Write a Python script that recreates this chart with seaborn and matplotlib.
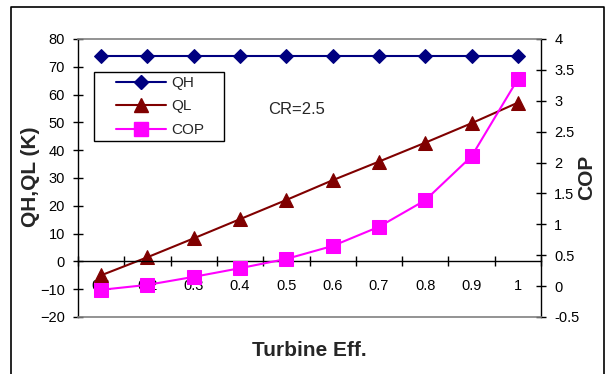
import matplotlib
matplotlib.use("Agg")
import matplotlib.pyplot as plt
import seaborn as sns
import pandas as pd
from matplotlib.lines import Line2D
from matplotlib.patches import Rectangle

# ---- data ----
turbine_eff = [0.1, 0.2, 0.3, 0.4, 0.5, 0.6, 0.7, 0.8, 0.9, 1.0]
x_tick_labels = ["0.1", "0.2", "0.3", "0.4", "0.5", "0.6", "0.7", "0.8", "0.9", "1"]
qh = [74, 74, 74, 74, 74, 74, 74, 74, 74, 74]
ql = [-5, 1.5, 8.3, 15.2, 22.1, 29.2, 35.9, 42.7, 49.7, 57.1]
cop = [-0.06, 0.02, 0.15, 0.29, 0.44, 0.65, 0.96, 1.39, 2.10, 3.35]
left_ticks = [-20, -10, 0, 10, 20, 30, 40, 50, 60, 70, 80]
right_ticks = [-0.5, 0, 0.5, 1, 1.5, 2, 2.5, 3, 3.5, 4]
right_tick_labels = ["-0.5", "0", "0.5", "1", "1.5", "2", "2.5", "3", "3.5", "4"]

df = pd.DataFrame({"eff": turbine_eff, "QH": qh, "QL": ql, "COP": cop})

sns.set_theme(style="white")
plt.rcParams["font.family"] = ["Liberation Sans", "DejaVu Sans"]

W, H = 608, 374
fig = plt.figure(figsize=(W / 100, H / 100), dpi=100)
ax = fig.add_axes([78 / W, 1 - 317 / H, (541 - 78) / W, (317 - 39) / H])
ax2 = ax.twinx()

navy = "#000080"
dred = "#800000"
mag = "#FF00FF"

sns.lineplot(data=df, x="eff", y="QH", ax=ax, color=navy, marker="D", markersize=7.2,
             markeredgecolor=navy, linewidth=1.5, label="QH", legend=False)
sns.lineplot(data=df, x="eff", y="QL", ax=ax, color=dred, marker="^", markersize=10,
             markeredgecolor=dred, linewidth=1.5, label="QL", legend=False)
sns.lineplot(data=df, x="eff", y="COP", ax=ax2, color=mag, marker="s", markersize=10,
             markeredgecolor=mag, linewidth=1.5, label="COP", legend=False)

ax.set_xlim(0.05, 1.05)
ax.set_ylim(-20, 80)
ax2.set_ylim(-0.5, 4)

# x axis crossing at 0
ax.spines["bottom"].set_position(("data", 0))
for s in ["top", "right"]:
    ax.spines[s].set_visible(False)
ax.spines["left"].set_color("black")
ax.spines["bottom"].set_color("black")
ax.spines["left"].set_linewidth(1.0)
ax.spines["bottom"].set_linewidth(1.0)

ax2.spines["left"].set_visible(False)
ax2.spines["right"].set_color("black")
ax2.spines["right"].set_linewidth(1.0)
ax2.spines["top"].set_color("#808080")
ax2.spines["bottom"].set_color("#808080")
ax2.spines["top"].set_linewidth(1.2)
ax2.spines["bottom"].set_linewidth(1.2)

ax.set_xticks(turbine_eff)
ax.set_xticklabels(x_tick_labels)
ax.set_xticks([0.05 + 0.1 * i for i in range(11)], minor=True)
ax.tick_params(axis="x", which="major", length=0, pad=13, labelsize=10.5, colors="black")
ax.tick_params(axis="x", which="minor", length=7, direction="inout", width=1, color="black", bottom=True)

ax.set_yticks(left_ticks)
ax.tick_params(axis="y", which="major", length=7, direction="inout", width=1, pad=6,
               labelsize=10.5, left=True, colors="black")
ax2.set_yticks(right_ticks)
ax2.set_yticklabels(right_tick_labels)
ax2.tick_params(axis="y", which="major", length=7, direction="inout", width=1, pad=6,
                labelsize=10.5, right=True, colors="black")

ax.set_xlabel("")
ax.set_ylabel("")
ax2.set_ylabel("")
ax.grid(False)
ax2.grid(False)

fig.text(30 / W, 1 - 177 / H, "QH,QL (K)", rotation=90, ha="center", va="center",
         fontsize=15, fontweight="bold")
fig.text(587 / W, 1 - 177 / H, "COP", rotation=90, ha="center", va="center",
         fontsize=15, fontweight="bold")
fig.text(309 / W, 1 - 350 / H, "Turbine Eff.", ha="center", va="center",
         fontsize=15, fontweight="bold")
fig.text(268 / W, 1 - 109 / H, "CR=2.5", ha="left", va="center", fontsize=12)

handles = [
    Line2D([], [], color=navy, marker="D", markersize=7.2, linewidth=1.5),
    Line2D([], [], color=dred, marker="^", markersize=10, linewidth=1.5),
    Line2D([], [], color=mag, marker="s", markersize=10, linewidth=1.5),
]
leg = fig.legend(handles, ["QH", "QL", "COP"], loc="upper left",
                 bbox_to_anchor=(116 / W, 1 - 76 / H), bbox_transform=fig.transFigure,
                 frameon=False, fontsize=11,
                 handlelength=3.3, handletextpad=0.33, borderpad=0, labelspacing=0.62,
                 borderaxespad=0)
# legend box frame
fig.add_artist(Rectangle((94 / W, 1 - 141 / H), (224 - 94) / W, (141 - 72) / H,
                         transform=fig.transFigure, fill=False, edgecolor="black",
                         linewidth=1.0))

# outer chart border
fig.add_artist(Line2D([11 / W, 11 / W, 604 / W, 604 / W], [-0.05, 1 - 7 / H, 1 - 7 / H, -0.05],
                      transform=fig.transFigure, color="black", linewidth=1.2))

fig.savefig("out.png", dpi=100)
